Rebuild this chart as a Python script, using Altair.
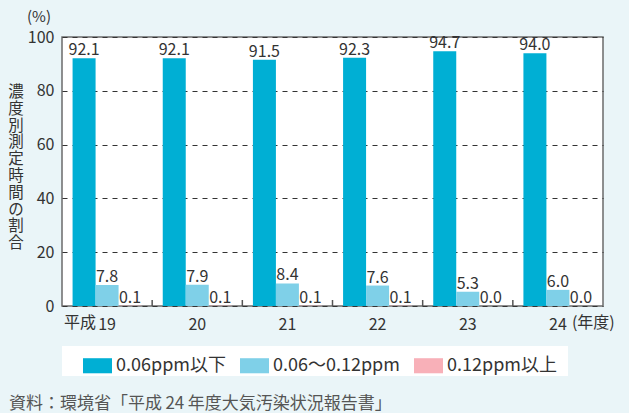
import altair as alt
import pandas as pd

years = ["19", "20", "21", "22", "23", "24"]
series = ["0.06ppm以下", "0.06～0.12ppm", "0.12ppm以上"]
low = [92.1, 92.1, 91.5, 92.3, 94.7, 94.0]
mid = [7.8, 7.9, 8.4, 7.6, 5.3, 6.0]
high = [0.1, 0.1, 0.1, 0.1, 0.0, 0.0]
colors = ["#00afd4", "#7fd0e8", "#f8b0b8"]
boundaries = ["20", "21", "22", "23", "24"]

FONT = "Noto Sans CJK JP"
TXT = "#333333"
W, H = 541, 269

rows = []
for s, vals in zip(series, [low, mid, high]):
    for y, v in zip(years, vals):
        rows.append({"year": y, "series": s, "value": v})
df = pd.DataFrame(rows)

xenc = alt.X("year:N", sort=years,
             scale=alt.Scale(domain=years, paddingInner=0, paddingOuter=0),
             axis=alt.Axis(title=None, ticks=False, domain=False, labelAngle=0,
                           labelFontSize=16, labelColor=TXT, labelPadding=10,
                           labelFont=FONT))
xoff = alt.XOffset("series:N", sort=series,
                   scale=alt.Scale(domain=series, paddingInner=0, paddingOuter=0.46))
yenc = alt.Y("value:Q", scale=alt.Scale(domain=[0, 100], nice=False),
             axis=alt.Axis(title=None, values=[0, 20, 40, 60, 80, 100], tickSize=0,
                           domain=False, labelPadding=8, labelFontSize=16,
                           labelColor=TXT, labelFont=FONT, grid=True,
                           gridDash=[5, 5], gridColor="#333333", gridWidth=1))

box = alt.Chart(pd.DataFrame({"a": [0]})).mark_rect(color="white").encode(
    x=alt.value(0), x2=alt.value(506), y=alt.value(309), y2=alt.value(339))

bars = alt.Chart(df).mark_bar().encode(
    x=xenc, xOffset=xoff, y=yenc,
    color=alt.Color("series:N", sort=series,
                    scale=alt.Scale(domain=series, range=colors),
                    legend=alt.Legend(title=None, orient="none", legendX=21, legendY=314,
                                      direction="horizontal",
                                      symbolType="M-1,-0.52H1V0.52H-1Z",
                                      symbolSize=841, symbolStrokeWidth=0,
                                      symbolOpacity=1,
                                      labelFontSize=18, labelFont=FONT,
                                      labelColor=TXT, labelOffset=4,
                                      columnPadding=14, padding=0)))

labels = alt.Chart(df).mark_text(dy=-3, baseline="alphabetic", fontSize=16,
                                 color=TXT, font=FONT).encode(
    x=alt.X("year:N", sort=years), xOffset=alt.XOffset("series:N", sort=series),
    y="value:Q", text=alt.Text("value:Q", format=".1f"))

ticks = alt.Chart(pd.DataFrame({"year": boundaries})).mark_rule(
    color="#555555", strokeWidth=1.5).encode(
    x=alt.X("year:N", bandPosition=0), y=alt.value(H - 6), y2=alt.value(H))

heisei = alt.Chart(pd.DataFrame({"year": ["19"], "t": ["平成"]})).mark_text(
    align="right", baseline="middle", dx=-11, fontSize=16, color=TXT, font=FONT).encode(
    x=alt.X("year:N"), y=alt.value(H + 17), text="t:N")

nendo = alt.Chart(pd.DataFrame({"year": ["24"], "t": ["(年度)"]})).mark_text(
    align="left", baseline="middle", dx=14, fontSize=16, color=TXT, font=FONT).encode(
    x=alt.X("year:N"), y=alt.value(H + 17), text="t:N")

pct = alt.Chart(pd.DataFrame({"t": ["(%)"]})).mark_text(
    align="center", baseline="middle", fontSize=15, color=TXT, font=FONT).encode(
    x=alt.value(-23), y=alt.value(-20), text="t:N")

ytitle = alt.Chart(pd.DataFrame({"t": ["濃\n度\n別\n測\n定\n時\n間\nの\n割\n合"]})).mark_text(
    align="center", baseline="top", fontSize=15.5, lineHeight=16.8, lineBreak="\n",
    color=TXT, font=FONT).encode(
    x=alt.value(-46), y=alt.value(48), text="t:N")

source = alt.Chart(pd.DataFrame({"t": ["資料：環境省「平成\u200924\u2009年度大気汚染状況報告書」"]})).mark_text(
    align="left", baseline="middle", fontSize=17, color="#555555", font=FONT).encode(
    x=alt.value(-53), y=alt.value(367), text="t:N")

chart = alt.layer(box, bars, labels, ticks, heisei, nendo, pct, ytitle, source).properties(
    width=W, height=H,
    autosize=alt.AutoSizeParams(type="none"),
    padding={"left": 62, "top": 37, "right": 26, "bottom": 107},
    background="#eaf5f8",
).configure(font=FONT).configure_view(fill="white", stroke="#6b6b6b", strokeWidth=1.5)

chart.save("out.html", embed_options={"renderer": "svg", "actions": False})
